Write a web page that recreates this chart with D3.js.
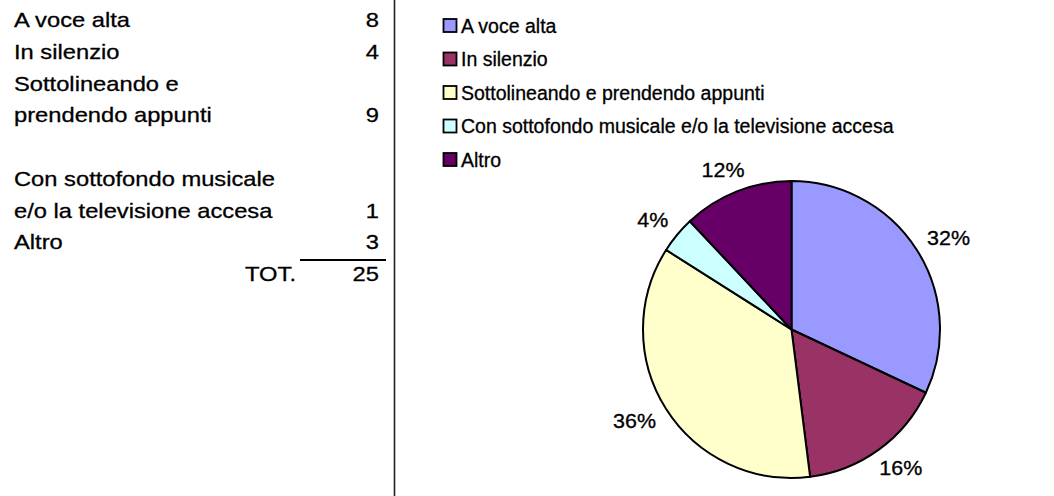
<!DOCTYPE html>
<html>
<head>
<meta charset="utf-8">
<script src="https://cdn.jsdelivr.net/npm/d3@7"></script>
<style>
  body { margin: 0; background: #fff; }
  text { font-family: "Liberation Sans", Arial, sans-serif; fill: #000; stroke: #000; stroke-width: 0.3px; }
</style>
</head>
<body>
<div id="chart"></div>
<script>
// data
const categories = ['A voce alta', 'In silenzio', 'Sottolineando e prendendo appunti',
  'Con sottofondo musicale e/o la televisione accesa', 'Altro'];
const counts = [8, 4, 9, 1, 3];
const tableLabels = [['A voce alta'], ['In silenzio'], ['Sottolineando e', 'prendendo appunti'],
  ['', 'Con sottofondo musicale', 'e/o la televisione accesa'], ['Altro']];
const colors = ['#9999FF', '#993366', '#FFFFCC', '#CCFFFF', '#660066'];
const totalLabel = 'TOT.';

const width = 1054,
  height = 496;

const svg = d3.select('#chart').append('svg')
  .attr('width', width)
  .attr('height', height);

const total = d3.sum(counts);

// stretched text helper (the source image is a bit wider than plain Arial)
function stext(g, x, y, str, size, sx, anchor) {
  return g.append('text')
    .attr('transform', `translate(${x},${y}) scale(${sx},1)`)
    .attr('font-size', size)
    .attr('text-anchor', anchor || 'start')
    .text(str);
}

// ---- left table ----
const table = svg.append('g');
const lineH = 31.7, top0 = 27.3;
let line = 0;
tableLabels.forEach((lines, i) => {
  lines.forEach((l, j) => {
    if (l) stext(table, 14, top0 + (line + j) * lineH, l, 21, 1.13);
  });
  line += lines.length;
  stext(table, 379, top0 + (line - 1) * lineH, String(counts[i]), 21, 1.13, 'end');
});
table.append('line')
  .attr('x1', 300).attr('x2', 386)
  .attr('y1', 260).attr('y2', 260)
  .attr('stroke', '#000').attr('stroke-width', 2);
stext(table, 296, top0 + line * lineH, totalLabel, 21, 1.13, 'end');
stext(table, 379, top0 + line * lineH, String(total), 21, 1.13, 'end');

svg.append('line')
  .attr('x1', 394.5).attr('x2', 394.5)
  .attr('y1', 0).attr('y2', height)
  .attr('stroke', '#222').attr('stroke-width', 1.6);

// ---- legend ----
const legend = svg.append('g').attr('transform', 'translate(443,0)');
const leg = legend.selectAll('g').data(categories).enter().append('g')
  .attr('transform', (d, i) => `translate(0,${32.5 + i * 33.5})`);
leg.append('rect')
  .attr('x', 0.5).attr('y', -13.5)
  .attr('width', 13).attr('height', 13)
  .attr('fill', (d, i) => colors[i])
  .attr('stroke', '#000').attr('stroke-width', 1.8);
leg.append('text')
  .attr('x', 18)
  .attr('font-size', 19.5)
  .text((d) => d);

// ---- pie ----
const cx = 791.5, cy = 329.5, r = 148.5;
const pie = d3.pie().sort(null).value((d) => d);
const arcs = pie(counts);
const arc = d3.arc().innerRadius(0).outerRadius(r);
const pg = svg.append('g').attr('transform', `translate(${cx},${cy})`);

pg.selectAll('path').data(arcs).enter().append('path')
  .attr('d', arc)
  .attr('fill', (d, i) => colors[i])
  .attr('stroke', '#000')
  .attr('stroke-width', 2)
  .attr('stroke-linejoin', 'round');

const fmt = (v) => Math.round(v / total * 100) + '%';
const R = r + 16, capH = 14, sx = 1.1;
arcs.forEach((d) => {
  const a = (d.startAngle + d.endAngle) / 2;
  const s = Math.sin(a), c = Math.cos(a);
  const t = stext(pg, 0, 0, fmt(d.value), 19.5, sx, 'middle');
  const w = t.node().getComputedTextLength() * sx;
  const x = R * s + s * w / 2;
  const y = -R * c - c * capH / 2 + capH / 2;
  t.attr('transform', `translate(${x},${y}) scale(${sx},1)`);
});
</script>
</body>
</html>
